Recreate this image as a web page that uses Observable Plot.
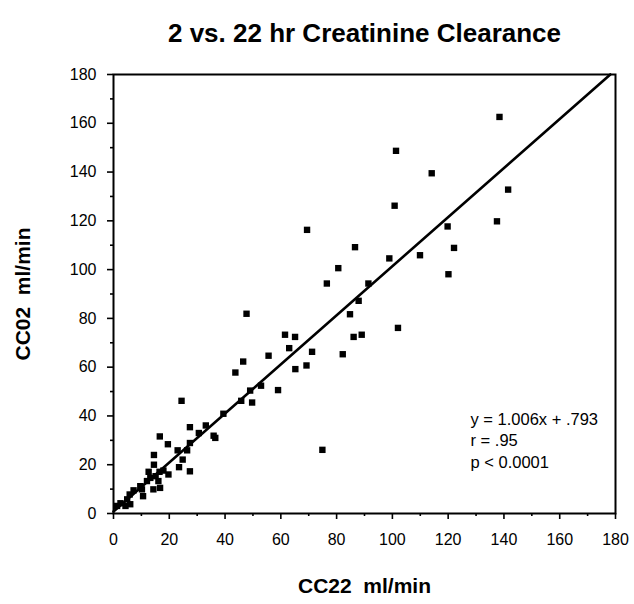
<!DOCTYPE html>
<html><head><meta charset="utf-8">
<script src="https://cdn.jsdelivr.net/npm/d3@7"></script>
<script src="https://cdn.jsdelivr.net/npm/@observablehq/plot@0.6"></script>
<style>
body{margin:0;background:#fff;}
#chart{width:634px;height:604px;}
</style></head><body><div id="chart"></div>
<script>
// CC22 (x) and CC02 (y) in ml/min
const cc22 = [1.3,2.5,4.3,6.0,4.9,5.8,7.2,10.6,9.6,10.2,12,14.3,16.7,16.1,12.6,13.2,15.1,16.5,17.9,19.7,14.5,14.5,16.6,19.5,23.5,24.8,23.0,26.4,27.4,27.4,24.4,27.4,30.6,33.1,35.9,36.5,39.4,
  43.7,45.8,46.5,47.7,49.7,49,52.9,55.6,59,61.5,63,65.1,65.2,69.2,71.2,69.4,74.9,76.5,80.6,82.2,84.8,86.1,86.6,87.9,89,91.4,
  98.9,100.8,101.3,102,109.9,114.1,119.8,120.1,122.1,137.5,138.4,141.5];
const cc02 = [3.1,4.2,3.1,3.8,5.8,7.8,9.5,7.1,11.2,9.9,13.3,9.9,10.5,13.3,17.1,14.6,15.3,17.1,17.6,16,24,20,31.6,28.4,19,22.1,25.9,25.9,28.9,17.3,46.2,35.4,33,36.1,31.9,31,40.9,
  57.8,46.2,62.3,81.9,45.5,50.4,52.4,64.7,50.6,73.3,67.8,72.4,59.2,60.7,66.3,116.3,26.1,94.3,100.6,65.3,81.7,72.4,109.2,87.2,73.3,94.3,
  104.6,126.2,148.7,76.1,105.9,139.5,117.7,98.1,108.9,119.8,162.6,132.8];
const title = "2 vs. 22 hr Creatinine Clearance";
const xLabel = "CC22  ml/min";
const yLabel = "CC02  ml/min";
const statLines = ["y = 1.006x + .793", "r = .95", "p < 0.0001"];
const slope = 1.006, intercept = 0.793;
const majorTicks = [0,20,40,60,80,100,120,140,160,180];
const minorTicks = [10,30,50,70,90,110,130,150,170];

const points = cc22.map((x, i) => ({x, y: cc02[i]}));
const fit = [0, (180 - intercept) / slope].map(x => ({x, y: slope * x + intercept}));

const font = "'Liberation Sans', Arial, Helvetica, sans-serif";
const plot = Plot.plot({
  width: 634, height: 604,
  marginLeft: 113, marginRight: 19, marginTop: 74, marginBottom: 91,
  style: {fontFamily: font, fontSize: "16px", color: "#000", background: "#fff", overflow: "visible"},
  x: {domain: [0, 180], label: null},
  y: {domain: [0, 180], label: null},
  marks: [
    Plot.frame({stroke: "#000", strokeWidth: 2}),
    Plot.axisX(minorTicks, {tickSize: 3, tickFormat: () => "", strokeWidth: 1.6}),
    Plot.axisX(majorTicks, {tickSize: 6, tickPadding: 14, fontSize: 16, strokeWidth: 1.6}),
    Plot.axisY(minorTicks, {tickSize: 3, tickFormat: () => "", strokeWidth: 1.6}),
    Plot.axisY(majorTicks, {tickSize: 6, tickPadding: 11, fontSize: 16, strokeWidth: 1.6}),
    Plot.line(fit, {x: "x", y: "y", stroke: "#000", strokeWidth: 2.6}),
    Plot.dot(points, {x: "x", y: "y", symbol: "square", r: 3.6, fill: "#000", stroke: null}),
    Plot.text([statLines.join("\n")], {frameAnchor: "bottom-right", textAnchor: "start", lineAnchor: "top", lineHeight: 1.3, dx: -145, dy: -104, fontSize: 16.5}),
    Plot.text([title], {frameAnchor: "top", lineAnchor: "middle", textAnchor: "middle", dy: -41, fontSize: 26, fontWeight: "bold"}),
    Plot.text([xLabel], {frameAnchor: "bottom", lineAnchor: "middle", textAnchor: "middle", dy: 73, fontSize: 21, fontWeight: "bold"}),
    Plot.text([yLabel], {frameAnchor: "left", lineAnchor: "middle", textAnchor: "middle", dx: -90, rotate: -90, fontSize: 21, fontWeight: "bold"})
  ]
});
document.getElementById("chart").appendChild(plot);
</script></body></html>
